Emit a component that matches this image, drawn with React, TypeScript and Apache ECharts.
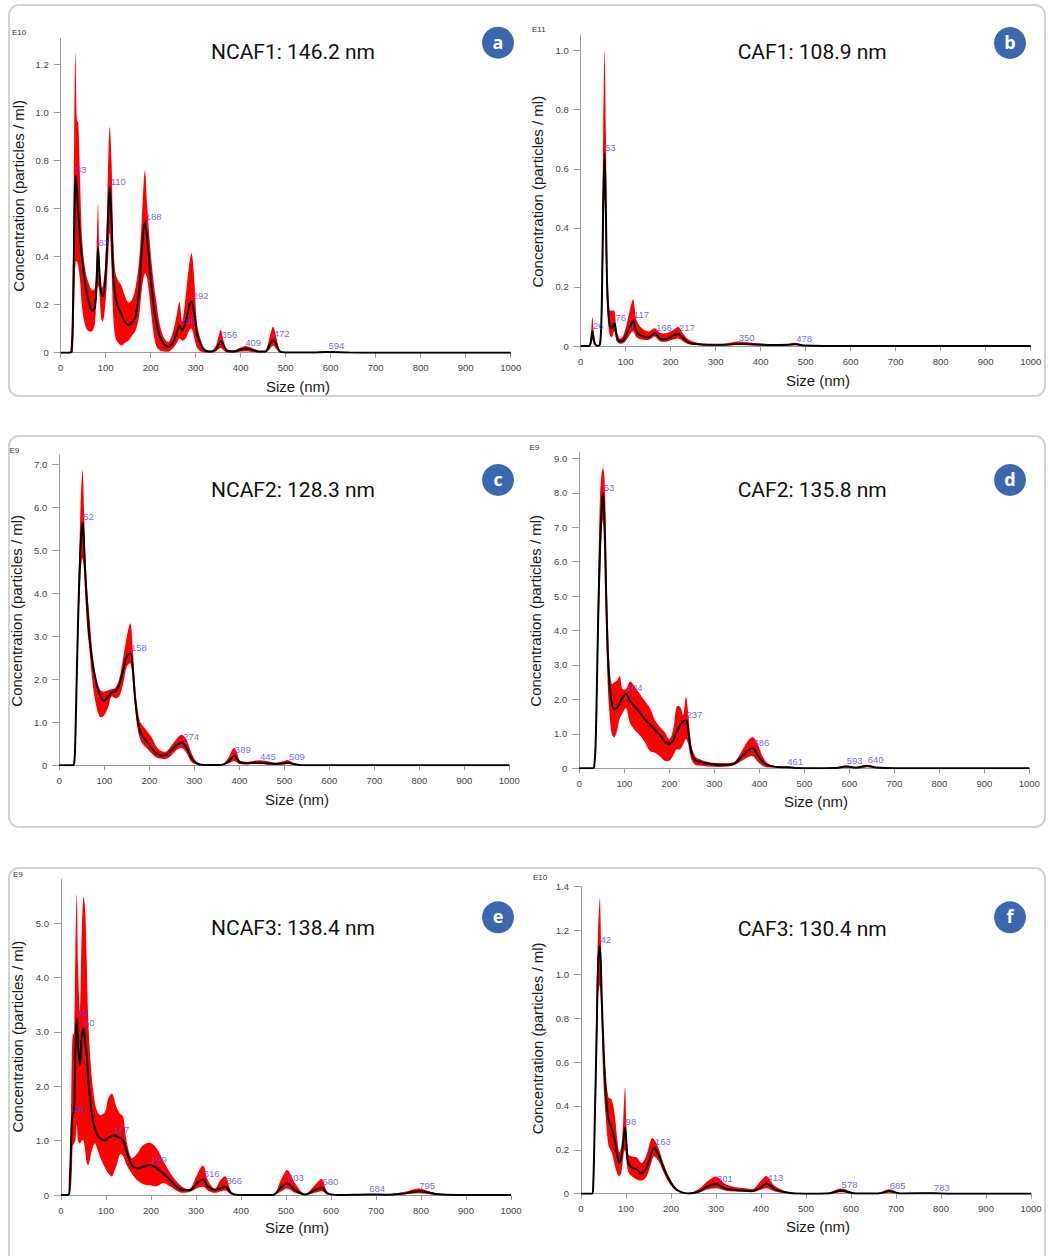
import React, { useEffect, useRef } from 'react';
import * as echarts from 'echarts';

// ---------- Panel a: NCAF1 (E10) ----------
const aSize = [0, 20, 24, 27, 30, 33, 36, 39, 43, 48,
  55, 62, 70, 76, 80, 83, 86, 90, 94, 100,
  105, 109, 113, 117, 122, 128, 135, 142, 150, 158,
  166, 174, 180, 187, 192, 198, 205, 212, 220, 230,
  240, 250, 258, 264, 270, 278, 285, 291, 297, 303,
  312, 322, 335, 345, 351, 356, 362, 370, 385, 398,
  410, 425, 440, 455, 465, 472, 479, 487, 500, 560,
  594, 640, 700, 1000];
const aMean = [0, 0, 0.01, 0.15, 0.5, 0.737, 0.68, 0.58, 0.48, 0.38,
  0.28, 0.215, 0.175, 0.19, 0.3, 0.435, 0.34, 0.25, 0.235, 0.33,
  0.55, 0.69, 0.55, 0.32, 0.23, 0.19, 0.16, 0.13, 0.115, 0.125,
  0.15, 0.25, 0.42, 0.542, 0.48, 0.35, 0.22, 0.13, 0.07, 0.035,
  0.025, 0.045, 0.085, 0.111, 0.095, 0.13, 0.19, 0.213, 0.16, 0.08,
  0.03, 0.008, 0.005, 0.015, 0.035, 0.049, 0.03, 0.008, 0.005, 0.012,
  0.018, 0.012, 0.005, 0.005, 0.035, 0.053, 0.035, 0.006, 0.001, 0.001,
  0.003, 0.001, 0, 0];
const aLow = [0, 0, 0, 0, 0.2, 0.38, 0.38, 0.36, 0.3, 0.18,
  0.11, 0.09, 0.09, 0.12, 0.25, 0.28, 0.25, 0.14, 0.13, 0.22,
  0.38, 0.5, 0.35, 0.14, 0.06, 0.04, 0.03, 0.04, 0.05, 0.07,
  0.09, 0.15, 0.26, 0.33, 0.31, 0.22, 0.1, 0.03, 0.01, 0.005,
  0.005, 0.02, 0.04, 0.06, 0.05, 0.06, 0.09, 0.1, 0.06, 0.02,
  0.005, 0, 0, 0.005, 0.015, 0.02, 0.01, 0, 0, 0.004,
  0.006, 0.003, 0, 0, 0.015, 0.03, 0.015, 0, 0, 0,
  0.001, 0, 0, 0];
const aHigh = [0, 0, 0.02, 0.35, 0.9, 1.25, 0.97, 0.96, 0.72, 0.46,
  0.34, 0.29, 0.26, 0.27, 0.45, 0.62, 0.4, 0.27, 0.28, 0.4,
  0.75, 0.94, 0.8, 0.45, 0.33, 0.3, 0.28, 0.24, 0.21, 0.22,
  0.27, 0.38, 0.55, 0.758, 0.62, 0.46, 0.32, 0.22, 0.12, 0.06,
  0.045, 0.09, 0.16, 0.21, 0.13, 0.24, 0.36, 0.414, 0.3, 0.12,
  0.05, 0.012, 0.008, 0.03, 0.07, 0.095, 0.05, 0.015, 0.01, 0.02,
  0.028, 0.02, 0.008, 0.01, 0.07, 0.108, 0.065, 0.01, 0.002, 0.002,
  0.005, 0.002, 0, 0];
const aPeakSize = [33, 83, 110, 188, 265, 292, 356, 409, 472, 594];
const aPeakConc = [0.737, 0.435, 0.69, 0.542, 0.111, 0.213, 0.049, 0.018, 0.053, 0.003];
const aYTicks = [0, 0.2, 0.4, 0.6, 0.8, 1.0, 1.2];

// ---------- Panel b: CAF1 (E11) ----------
const bSize = [0, 18, 22, 26, 30, 34, 40, 44, 47, 50,
  53, 56, 59, 64, 69, 75, 80, 87, 95, 106,
  112, 117, 124, 136, 150, 158, 165, 176, 188, 202,
  210, 217, 228, 240, 260, 285, 320, 350, 390, 430,
  460, 478, 495, 600, 1000];
const bMean = [0, 0, 0.01, 0.0485, 0.015, 0.003, 0.001, 0.02, 0.15, 0.48,
  0.652, 0.45, 0.19, 0.077, 0.06, 0.077, 0.032, 0.015, 0.02, 0.054,
  0.075, 0.086, 0.048, 0.034, 0.029, 0.037, 0.043, 0.026, 0.023, 0.032,
  0.038, 0.041, 0.026, 0.012, 0.006, 0.004, 0.004, 0.007, 0.005, 0.003,
  0.004, 0.006, 0.002, 0, 0];
const bLow = [0, 0, 0, 0.02, 0.003, 0, 0, 0.005, 0.08, 0.3,
  0.5, 0.3, 0.12, 0.04, 0.03, 0.05, 0.015, 0.008, 0.01, 0.03,
  0.045, 0.05, 0.03, 0.022, 0.02, 0.026, 0.032, 0.016, 0.014, 0.02,
  0.024, 0.025, 0.015, 0.006, 0.003, 0.001, 0.001, 0.003, 0.002, 0.001,
  0.002, 0.003, 0, 0, 0];
const bHigh = [0, 0, 0.03, 0.097, 0.03, 0.005, 0.003, 0.05, 0.28, 0.73,
  1.0, 0.72, 0.3, 0.12, 0.12, 0.118, 0.054, 0.025, 0.037, 0.1,
  0.14, 0.158, 0.088, 0.06, 0.049, 0.055, 0.06, 0.045, 0.043, 0.051,
  0.058, 0.065, 0.041, 0.022, 0.011, 0.007, 0.008, 0.015, 0.009, 0.006,
  0.007, 0.011, 0.003, 0, 0];
const bPeakSize = [26, 53, 76, 117, 166, 217, 350, 478];
const bPeakConc = [0.0485, 0.652, 0.077, 0.086, 0.043, 0.041, 0.007, 0.006];
const bYTicks = [0, 0.2, 0.4, 0.6, 0.8, 1.0];

// ---------- Panel c: NCAF2 (E9) ----------
const cSize = [0, 30, 33, 35, 38, 42, 46, 49, 52, 55,
  58, 62, 67, 73, 81, 90, 99, 109, 116, 124,
  133, 142, 150, 158, 163, 168, 174, 180, 187, 196,
  205, 216, 227, 238, 250, 261, 272, 283, 294, 305,
  320, 360, 376, 383, 389, 395, 401, 416, 430, 445,
  460, 480, 500, 509, 520, 540, 1000];
const cMean = [0, 0, 0.05, 0.36, 1.7, 3.46, 4.78, 5.4, 5.64, 5.1,
  4.4, 3.7, 2.99, 2.45, 1.98, 1.64, 1.5, 1.6, 1.69, 1.71,
  1.87, 2.22, 2.55, 2.6, 2.29, 1.6, 1.05, 0.78, 0.64, 0.53,
  0.4, 0.28, 0.22, 0.24, 0.36, 0.47, 0.53, 0.4, 0.16, 0.05,
  0.005, 0.005, 0.09, 0.17, 0.22, 0.15, 0.07, 0.05, 0.055, 0.06,
  0.05, 0.03, 0.05, 0.06, 0.03, 0.003, 0];
const cLow = [0, 0, 0.02, 0.25, 1.3, 3.0, 4.2, 4.7, 4.8, 4.5,
  3.9, 3.2, 2.68, 2.0, 1.44, 1.13, 1.15, 1.36, 1.6, 1.56,
  1.6, 1.9, 2.3, 2.37, 2.0, 1.4, 0.85, 0.6, 0.47, 0.38,
  0.28, 0.18, 0.15, 0.15, 0.24, 0.36, 0.4, 0.28, 0.07, 0.02,
  0, 0, 0.04, 0.08, 0.1, 0.06, 0.03, 0.02, 0.03, 0.03,
  0.02, 0.01, 0.02, 0.03, 0.01, 0, 0];
const cHigh = [0, 0, 0.08, 0.5, 2.1, 3.9, 5.6, 6.5, 6.88, 5.9,
  4.9, 4.1, 3.46, 2.68, 2.06, 1.77, 1.71, 1.75, 1.77, 1.8,
  2.0, 2.5, 2.99, 3.3, 2.75, 1.9, 1.3, 1.0, 0.9, 0.78,
  0.65, 0.44, 0.33, 0.32, 0.47, 0.62, 0.71, 0.59, 0.28, 0.08,
  0.01, 0.01, 0.18, 0.34, 0.4, 0.3, 0.12, 0.08, 0.1, 0.12,
  0.1, 0.06, 0.1, 0.12, 0.06, 0.005, 0];
const cPeakSize = [52, 158, 274, 389, 445, 509];
const cPeakConc = [5.64, 2.6, 0.53, 0.22, 0.06, 0.06];
const cYTicks = [0, 1, 2, 3, 4, 5, 6, 7];

// ---------- Panel d: CAF2 (E9) ----------
const dSize = [0, 30, 33, 36, 39, 42, 46, 50, 53, 56,
  59, 63, 67, 72, 78, 84, 90, 96, 104, 113,
  124, 135, 146, 157, 168, 179, 190, 200, 209, 216,
  224, 231, 237, 242, 248, 257, 268, 287, 309, 331,
  346, 361, 376, 386, 396, 409, 424, 450, 461, 480,
  520, 570, 593, 615, 640, 660, 700, 1000];
const dMean = [0, 0, 0.05, 0.6, 2.3, 4.4, 6.34, 7.6, 7.99, 7.1,
  5.37, 3.44, 2.47, 1.89, 1.72, 1.76, 1.9, 2.05, 2.16, 1.95,
  1.78, 1.62, 1.42, 1.28, 1.12, 0.98, 0.77, 0.71, 0.82, 1.05,
  1.25, 1.36, 1.4, 1.11, 0.53, 0.24, 0.19, 0.13, 0.1, 0.1,
  0.15, 0.34, 0.53, 0.58, 0.39, 0.17, 0.07, 0.03, 0.03, 0.01,
  0.005, 0.01, 0.05, 0.02, 0.07, 0.02, 0, 0];
const dLow = [0, 0, 0.02, 0.4, 1.8, 3.6, 5.5, 7.0, 7.2, 6.4,
  4.5, 2.5, 1.6, 1.0, 0.9, 1.1, 1.45, 1.6, 1.75, 1.3,
  1.1, 0.95, 0.75, 0.5, 0.45, 0.35, 0.22, 0.22, 0.38, 0.55,
  0.55, 0.7, 0.85, 0.7, 0.3, 0.1, 0.08, 0.05, 0.04, 0.05,
  0.1, 0.22, 0.33, 0.35, 0.2, 0.06, 0.02, 0.01, 0.01, 0,
  0, 0, 0.02, 0.005, 0.03, 0.005, 0, 0];
const dHigh = [0, 0, 0.1, 1.0, 3.0, 5.5, 7.9, 8.6, 8.72, 8.4,
  7.0, 4.5, 3.0, 2.45, 2.5, 2.55, 2.68, 2.3, 2.3, 2.52,
  2.35, 2.15, 1.95, 1.75, 1.4, 1.2, 1.05, 0.85, 1.15, 1.79,
  1.79, 1.55, 2.08, 1.6, 0.75, 0.36, 0.26, 0.18, 0.15, 0.15,
  0.2, 0.5, 0.82, 0.9, 0.72, 0.3, 0.1, 0.05, 0.05, 0.02,
  0.01, 0.02, 0.08, 0.04, 0.1, 0.03, 0, 0];
const dPeakSize = [53, 104, 237, 386, 461, 593, 640];
const dPeakConc = [7.99, 2.16, 1.4, 0.58, 0.03, 0.05, 0.07];
const dYTicks = [0, 1, 2, 3, 4, 5, 6, 7, 8, 9];

// ---------- Panel e: NCAF3 (E9) ----------
const eSize = [0, 16, 20, 24, 26, 29, 32, 35, 38, 42,
  46, 50, 54, 57, 61, 68, 75, 80, 87, 98,
  105, 113, 117, 124, 131, 138, 146, 157, 168, 183,
  198, 213, 227, 242, 257, 272, 287, 301, 316, 327,
  342, 355, 366, 379, 400, 470, 490, 503, 520, 542,
  564, 580, 592, 620, 683, 720, 764, 795, 831, 880,
  1000];
const eMean = [0, 0, 0.37, 1.35, 1.48, 1.55, 2.6, 3.24, 2.75, 2.39,
  2.9, 3.06, 2.8, 2.6, 2.09, 1.53, 1.23, 1.12, 1.04, 1.0,
  1.05, 1.09, 1.1, 1.08, 1.05, 1.01, 0.8, 0.55, 0.49, 0.52,
  0.55, 0.49, 0.4, 0.28, 0.15, 0.09, 0.09, 0.21, 0.29, 0.15,
  0.09, 0.13, 0.15, 0.03, 0, 0, 0.15, 0.21, 0.09, 0.01,
  0.09, 0.14, 0.03, 0, 0.01, 0.005, 0.03, 0.07, 0.02, 0,
  0];
const eLow = [0, 0, 0, 0.4, 0.9, 0.95, 1.0, 1.3, 1.0, 0.95,
  1.0, 1.0, 0.8, 0.6, 0.55, 0.8, 0.95, 0.86, 0.7, 0.49,
  0.4, 0.34, 0.4, 0.55, 0.75, 0.72, 0.55, 0.4, 0.28, 0.2,
  0.18, 0.16, 0.22, 0.16, 0.08, 0.04, 0.06, 0.12, 0.15, 0.08,
  0.04, 0.07, 0.08, 0.01, 0, 0, 0.07, 0.12, 0.04, 0,
  0.04, 0.07, 0.01, 0, 0, 0, 0.01, 0.03, 0.005, 0,
  0];
const eHigh = [0, 0, 0.5, 2.5, 2.95, 2.97, 4.5, 5.53, 4.2, 3.4,
  4.8, 5.49, 5.2, 4.35, 3.13, 2.2, 1.72, 1.55, 1.47, 1.53,
  1.78, 1.87, 1.8, 1.6, 1.5, 1.44, 0.98, 0.68, 0.75, 0.92,
  0.96, 0.85, 0.63, 0.42, 0.25, 0.14, 0.12, 0.35, 0.54, 0.26,
  0.12, 0.28, 0.34, 0.06, 0, 0, 0.3, 0.46, 0.22, 0.02,
  0.18, 0.29, 0.06, 0.005, 0.02, 0.01, 0.06, 0.12, 0.04, 0,
  0];
const ePeakSize = [26, 35, 50, 117, 199, 316, 366, 503, 580, 684, 795];
const ePeakConc = [1.48, 3.24, 3.06, 1.1, 0.55, 0.29, 0.15, 0.21, 0.14, 0.01, 0.07];
const eYTicks = [0, 1, 2, 3, 4, 5];

// ---------- Panel f: CAF3 (E10) ----------
const fSize = [0, 24, 27, 31, 35, 38, 42, 46, 50, 55,
  61, 68, 75, 81, 85, 90, 94, 98, 101, 105,
  113, 124, 135, 146, 156, 162, 172, 183, 194, 209,
  224, 239, 261, 283, 301, 320, 342, 364, 383, 400,
  413, 431, 461, 498, 550, 578, 609, 660, 685, 710,
  783, 820, 1000];
const fMean = [0, 0, 0.03, 0.37, 0.75, 1.05, 1.13, 0.9, 0.67, 0.46,
  0.34, 0.3, 0.245, 0.17, 0.14, 0.17, 0.245, 0.3, 0.23, 0.14,
  0.12, 0.11, 0.093, 0.12, 0.18, 0.21, 0.18, 0.12, 0.07, 0.024,
  0.006, 0.001, 0.009, 0.035, 0.044, 0.024, 0.017, 0.014, 0.013, 0.03,
  0.047, 0.02, 0.004, 0, 0.001, 0.014, 0.001, 0.001, 0.011, 0.001,
  0.002, 0, 0];
const fLow = [0, 0, 0.01, 0.25, 0.6, 0.9, 0.95, 0.75, 0.5, 0.35,
  0.22, 0.19, 0.13, 0.09, 0.08, 0.1, 0.17, 0.2, 0.15, 0.1,
  0.08, 0.065, 0.06, 0.08, 0.14, 0.17, 0.15, 0.1, 0.055, 0.018,
  0.004, 0, 0.004, 0.02, 0.025, 0.015, 0.01, 0.008, 0.008, 0.018,
  0.025, 0.01, 0.002, 0, 0, 0.007, 0, 0, 0.005, 0,
  0.001, 0, 0];
const fHigh = [0, 0, 0.05, 0.5, 0.95, 1.2, 1.35, 0.97, 0.7, 0.55,
  0.44, 0.43, 0.36, 0.24, 0.19, 0.22, 0.34, 0.485, 0.31, 0.18,
  0.17, 0.165, 0.14, 0.18, 0.25, 0.25, 0.21, 0.14, 0.085, 0.032,
  0.01, 0.003, 0.02, 0.06, 0.078, 0.045, 0.03, 0.025, 0.022, 0.06,
  0.08, 0.035, 0.008, 0.001, 0.005, 0.024, 0.004, 0.003, 0.02, 0.003,
  0.004, 0, 0];
const fPeakSize = [42, 98, 163, 301, 413, 578, 685, 783];
const fPeakConc = [1.13, 0.3, 0.21, 0.044, 0.047, 0.014, 0.011, 0.002];
const fYTicks = [0, 0.2, 0.4, 0.6, 0.8, 1.0, 1.2, 1.4];

const panelTitles = ['NCAF1: 146.2 nm', 'CAF1: 108.9 nm', 'NCAF2: 128.3 nm', 'CAF2: 135.8 nm', 'NCAF3: 138.4 nm', 'CAF3: 130.4 nm'];
const panelLetters = ['a', 'b', 'c', 'd', 'e', 'f'];
const panelExponents = ['E10', 'E11', 'E9', 'E9', 'E9', 'E10'];
const X_NAME = 'Size (nm)';
const Y_NAME = 'Concentration (particles / ml)';

const panels = [
  { size: aSize, mean: aMean, low: aLow, high: aHigh, pk: aPeakSize, pc: aPeakConc, ticks: aYTicks, yMax: 1.31,
    grid: [60.7, 38.3, 450, 314.4], title: [211, 52.3], badge: [498, 42.7], exp: [12, 32.7], yName: [18.6, 195.8], xName: [298, 386] },
  { size: bSize, mean: bMean, low: bLow, high: bHigh, pk: bPeakSize, pc: bPeakConc, ticks: bYTicks, yMax: 1.053,
    grid: [580.7, 35, 450, 311], title: [737.7, 52.3], badge: [1010, 43], exp: [532, 29.3], yName: [537, 191.7], xName: [818, 380] },
  { size: cSize, mean: cMean, low: cLow, high: cHigh, pk: cPeakSize, pc: cPeakConc, ticks: cYTicks, yMax: 7.216,
    grid: [59.3, 455, 450, 310.3], title: [211, 490], badge: [498, 480], exp: [9.5, 450], yName: [16.2, 610.8], xName: [297, 799] },
  { size: dSize, mean: dMean, low: dLow, high: dHigh, pk: dPeakSize, pc: dPeakConc, ticks: dYTicks, yMax: 9.164,
    grid: [579.3, 452.7, 450, 315.6], title: [737.7, 490], badge: [1010, 480], exp: [529.5, 447.3], yName: [535.2, 610.8], xName: [816, 801] },
  { size: eSize, mean: eMean, low: eLow, high: eHigh, pk: ePeakSize, pc: ePeakConc, ticks: eYTicks, yMax: 5.81,
    grid: [61, 879.3, 450, 315.7], title: [211, 927.8], badge: [498, 917.3], exp: [13, 874], yName: [17.6, 1036.7], xName: [297, 1227.7] },
  { size: fSize, mean: fMean, low: fLow, high: fHigh, pk: fPeakSize, pc: fPeakConc, ticks: fYTicks, yMax: 1.4,
    grid: [581, 886.7, 450, 307], title: [737.7, 928.5], badge: [1010, 917.3], exp: [533, 877.3], yName: [537.5, 1038.3], xName: [818, 1226.7] },
];

const rowBoxes = [[9, 5, 1036, 391], [9, 436, 1036, 391], [9, 868, 1036, 400]];

const AXIS_GRAY = '#9a9a9a';
const TICK_TEXT = '#444444';
const SANS = 'Liberation Sans, Arial, sans-serif';

function buildOption() {
  const grid = panels.map((p) => ({
    left: p.grid[0], top: p.grid[1], width: p.grid[2], height: p.grid[3],
    containLabel: false,
  }));
  const xAxis = panels.map((p, i) => ({
    type: 'value', gridIndex: i, min: 0, max: 1000, interval: 100,
    axisLine: { show: true, onZero: false, lineStyle: { color: AXIS_GRAY, width: 1 } },
    axisTick: { show: true, length: 5, lineStyle: { color: AXIS_GRAY } },
    axisLabel: { show: true, fontSize: 9.5, color: TICK_TEXT, margin: 10, fontFamily: SANS,
      formatter: (v: number) => String(Math.round(v)) },
    splitLine: { show: false },
  }));
  const yAxis = panels.map((p, i) => {
    const step = p.ticks[1] - p.ticks[0];
    return {
      type: 'value', gridIndex: i, min: 0, max: p.yMax, interval: step,
      axisLine: { show: true, onZero: false, lineStyle: { color: AXIS_GRAY, width: 1 } },
      axisTick: { show: true, length: 7, customValues: p.ticks, lineStyle: { color: AXIS_GRAY } },
      axisLabel: {
        show: true, customValues: p.ticks, fontSize: 9.5, color: TICK_TEXT, margin: 12, fontFamily: SANS,
        formatter: (v: number) => {
          const ok = p.ticks.some((t) => Math.abs(t - v) < 1e-6);
          if (!ok) return '';
          return Math.abs(v) < 1e-9 ? '0' : v.toFixed(1);
        },
      },
      splitLine: { show: false },
    };
  });

  const series: any[] = [];
  panels.forEach((p, i) => {
    const n = p.size.length;
    series.push({
      type: 'custom', xAxisIndex: i, yAxisIndex: i, silent: true, z: 2,
      data: p.size.map((s, k) => [s, p.low[k], p.high[k]]),
      encode: { x: 0, y: [1, 2] },
      renderItem: (params: any, api: any) => {
        if (params.dataIndex !== 0) return null;
        const pts: number[][] = [];
        for (let k = 0; k < n; k++) pts.push(api.coord([p.size[k], p.high[k]]));
        for (let k = n - 2; k >= 1; k--) pts.push(api.coord([p.size[k], p.low[k]]));
        return {
          type: 'polygon',
          shape: { points: pts, smooth: 0.35, smoothConstraint: [pts[0].slice(), pts[0].slice()] },
          style: { fill: '#ff0000' },
        };
      },
    });
    series.push({
      type: 'line', xAxisIndex: i, yAxisIndex: i, silent: true, z: 3,
      data: p.size.map((s, k) => [s, p.mean[k]]),
      smooth: 0.35, symbol: 'none',
      lineStyle: { color: '#000000', width: 2 },
    });
    series.push({
      type: 'scatter', xAxisIndex: i, yAxisIndex: i, silent: true, z: 4,
      data: p.pk.map((s, k) => ({ value: [s, p.pc[k]], name: String(s) })),
      symbolSize: 1, itemStyle: { color: 'rgba(0,0,0,0)' },
      label: {
        show: true, formatter: '{b}', position: [1, -10.5],
        color: '#4343ff', fontSize: 9.5, fontFamily: SANS,
      },
    });
  });

  const graphic: any[] = [];
  rowBoxes.forEach((b) => {
    graphic.push({
      type: 'rect', silent: true, z: 0,
      shape: { x: b[0], y: b[1], width: b[2], height: b[3], r: 10 },
      style: { fill: 'rgba(0,0,0,0)', stroke: '#d2d2d2', lineWidth: 2 },
    });
  });
  panels.forEach((p, i) => {
    graphic.push({
      type: 'text', silent: true, z: 10, x: p.title[0], y: p.title[1],
      style: { text: panelTitles[i], fontSize: 21, fontFamily: 'Roboto, sans-serif', fill: '#111111',
        align: 'left', verticalAlign: 'middle' },
    });
    graphic.push({
      type: 'circle', silent: true, z: 10,
      shape: { cx: p.badge[0], cy: p.badge[1], r: 16 },
      style: { fill: '#3a67ae' },
    });
    graphic.push({
      type: 'text', silent: true, z: 11, x: p.badge[0], y: p.badge[1] - 1,
      style: { text: panelLetters[i], fontSize: 18, fontWeight: 'bold', fontFamily: 'Open Sans, sans-serif', fill: '#ffffff',
        align: 'center', verticalAlign: 'middle' },
    });
    graphic.push({
      type: 'text', silent: true, z: 10, x: p.exp[0], y: p.exp[1],
      style: { text: panelExponents[i], fontSize: 8, fontFamily: SANS, fill: '#333333',
        align: 'left', verticalAlign: 'middle' },
    });
    graphic.push({
      type: 'text', silent: true, z: 10, x: p.xName[0], y: p.xName[1],
      style: { text: X_NAME, fontSize: 15, fontFamily: SANS, fill: '#1a1a1a',
        align: 'center', verticalAlign: 'middle' },
    });
    graphic.push({
      type: 'text', silent: true, z: 10, x: p.yName[0], y: p.yName[1], rotation: Math.PI / 2,
      style: { text: Y_NAME, fontSize: 15, fontFamily: SANS, fill: '#1a1a1a',
        align: 'center', verticalAlign: 'middle' },
    });
  });

  return {
    animation: false,
    backgroundColor: '#ffffff',
    grid, xAxis, yAxis, series, graphic,
  };
}

export default function App() {
  const ref = useRef<HTMLDivElement | null>(null);
  useEffect(() => {
    if (!ref.current) return;
    const chart = echarts.init(ref.current, null, { renderer: 'svg' });
    chart.setOption(buildOption() as any);
    return () => chart.dispose();
  }, []);
  return (
    <div
      ref={ref}
      style={{ position: 'absolute', left: 0, top: 0, width: 1048, height: 1256, background: '#ffffff' }}
    />
  );
}
